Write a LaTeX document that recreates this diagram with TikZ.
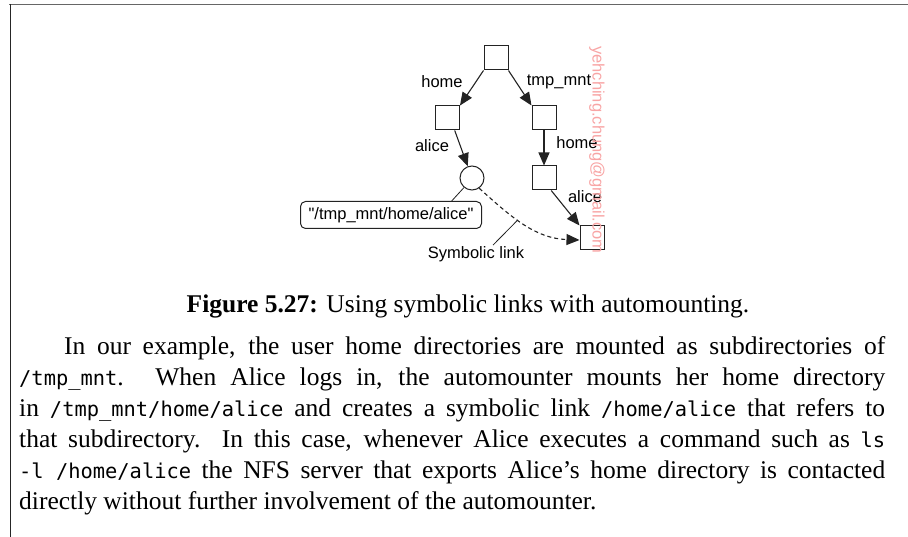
\documentclass[tikz,border=0pt]{standalone}
\usepackage{fontspec}
\setmainfont{Liberation Serif}
\setsansfont{Liberation Sans}[Ligatures=TeXOff]
\setmonofont[Scale=0.8]{DejaVu Sans Mono}
\usetikzlibrary{arrows.meta, positioning, calc}
\definecolor{linegray}{RGB}{35,35,35}
\definecolor{wmpink}{RGB}{248,165,165}

\begin{document}
\begin{tikzpicture}[x=1pt, y=1pt,
    dirbox/.style={draw=linegray, line width=1pt, minimum width=24pt, minimum height=24pt, inner sep=0pt},
    linkcirc/.style={draw=linegray, line width=1pt, circle, minimum size=24pt, inner sep=0pt},
    lbl/.style={font=\fontsize{16.5}{18}\selectfont\sffamily, inner sep=1pt},
    arr/.style={-{Triangle[length=13pt,width=11pt]}, line width=1.1pt, linegray},
    lead/.style={linegray, line width=0.8pt},
    bodytext/.style={font=\fontsize{25.5}{31}\selectfont, inner sep=0pt}]
  \useasboundingbox (0,0) rectangle (908,-537);

  % page frame
  \draw[gray!80!black, line width=1.5pt] (9,-4.5) -- (908,-4.5);
  \draw[black!85, line width=1pt] (10,-4.5) -- (10,-537);

  % directory tree
  \node[dirbox] (root) at (496,-58) {};
  \node[dirbox] (home) at (447.5,-118) {};
  \node[dirbox] (tmpmnt) at (544,-118) {};
  \node[dirbox] (tmphome) at (544,-178) {};
  \node[linkcirc] (link) at (472,-178) {};
  \node[dirbox] (alicedir) at (592,-238) {};
  \node[draw=linegray, line width=1pt, rounded corners=5pt, minimum width=181pt,
        minimum height=27pt, lbl] (target) at (391,-215) {"/tmp\_mnt/home/alice"};

  \node[lbl] (lhome) at (442,-82) {home};
  \node[lbl] (ltmp) at (559,-82) {tmp\_mnt};
  \node[lbl] (lalice) at (432,-146) {alice};
  \node[lbl] (lhometwo) at (577,-143) {home};
  \node[lbl] (lalicetwo) at (585,-197) {alice};
  \node[lbl] (lsym) at (476,-254) {Symbolic link};

  \draw[arr] (root.south west) -- (home.north east);
  \draw[arr] (root.south east) -- (tmpmnt.north west);
  \draw[arr] (home.-60) -- (link.110);
  \draw[arr] (tmpmnt) -- (tmphome);
  \draw[arr] (tmphome.-60) -- (alicedir.north west);
  \draw[arr, dash pattern=on 4pt off 3pt] (link.-55) to[out=-42, in=178]
    coordinate[pos=0.42] (linkpt) ($(alicedir.west)+(0,-2)$);

  \draw[lead] (target.13) -- (link.-130);
  \draw[lead] ($(lsym.north)+(17,0)$) -- (linkpt);

  \node[lbl, rotate=-90, text=wmpink] (wmark) at (597,-150) {yehching.chung@gmail.com};

  % caption and running text
  \node[bodytext] (caption) at (468,-306)
    {\textbf{Figure 5.27:} Using symbolic links with automounting.};
  \node[bodytext, text width=866pt, align=justify, anchor=north west] (para) at (19,-336) {%
    \hspace*{45pt}In our example, the user home directories are mounted as subdirectories of\linebreak
    \texttt{/tmp\_mnt}. When Alice logs in, the automounter mounts her home directory\linebreak
    in \texttt{/tmp\_mnt/home/alice} and creates a symbolic link \texttt{/home/alice} that refers to\linebreak
    that subdirectory. In this case, whenever Alice executes a command such as \texttt{ls}\linebreak
    \texttt{-l /home/alice} the NFS server that exports Alice’s home directory is contacted\linebreak
    directly without further involvement of the automounter.};
\end{tikzpicture}
\end{document}
